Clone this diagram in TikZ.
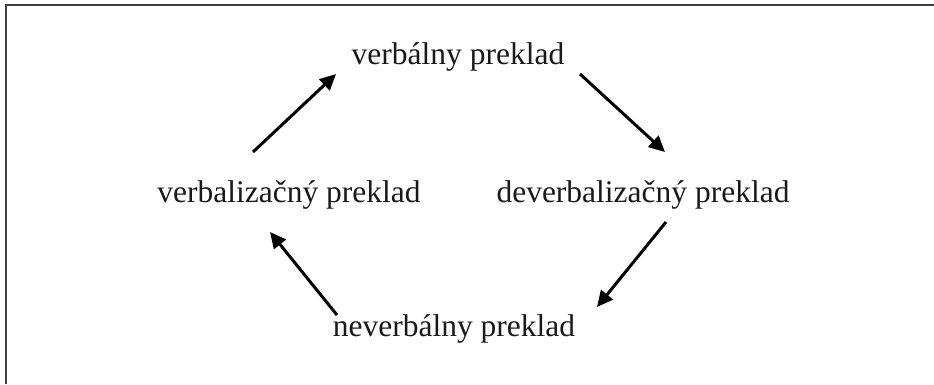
\documentclass[tikz,border=0pt]{standalone}
\usepackage{fontspec}
\setmainfont{Liberation Serif}
\usetikzlibrary{arrows.meta}
\begin{document}
\begin{tikzpicture}[x=1pt,y=-1pt,
  label text/.style={font=\fontsize{31.5}{36}\selectfont, text=black!90, inner sep=0pt, anchor=base},
  cycle arrow/.style={line width=3pt, -{Triangle[length=16pt,width=15pt]}},
  frame/.style={line width=2pt, draw=black!75}]
  \useasboundingbox (0,0) rectangle (934,384);
  % frame: top and left edges only
  \draw[frame] (5.5,384) -- (5.5,4.5) -- (934,4.5);
  % the four kinds of translation
  \node[label text] (verb)   at (458,64)  {verbálny preklad};
  \node[label text] (verbz)  at (289,202) {verbalizačný preklad};
  \node[label text] (deverb) at (643,202) {deverbalizačný preklad};
  \node[label text] (never)  at (454,336) {neverbálny preklad};
  % arrow end points
  \coordinate (a1) at (580,74);  \coordinate (b1) at (665,152);
  \coordinate (a2) at (666,222); \coordinate (b2) at (597,307);
  \coordinate (a3) at (337,315); \coordinate (b3) at (270,232);
  \coordinate (a4) at (253,152); \coordinate (b4) at (336,74);
  \draw[cycle arrow] (a1) -- (b1);
  \draw[cycle arrow] (a2) -- (b2);
  \draw[cycle arrow] (a3) -- (b3);
  \draw[cycle arrow] (a4) -- (b4);
\end{tikzpicture}
\end{document}
